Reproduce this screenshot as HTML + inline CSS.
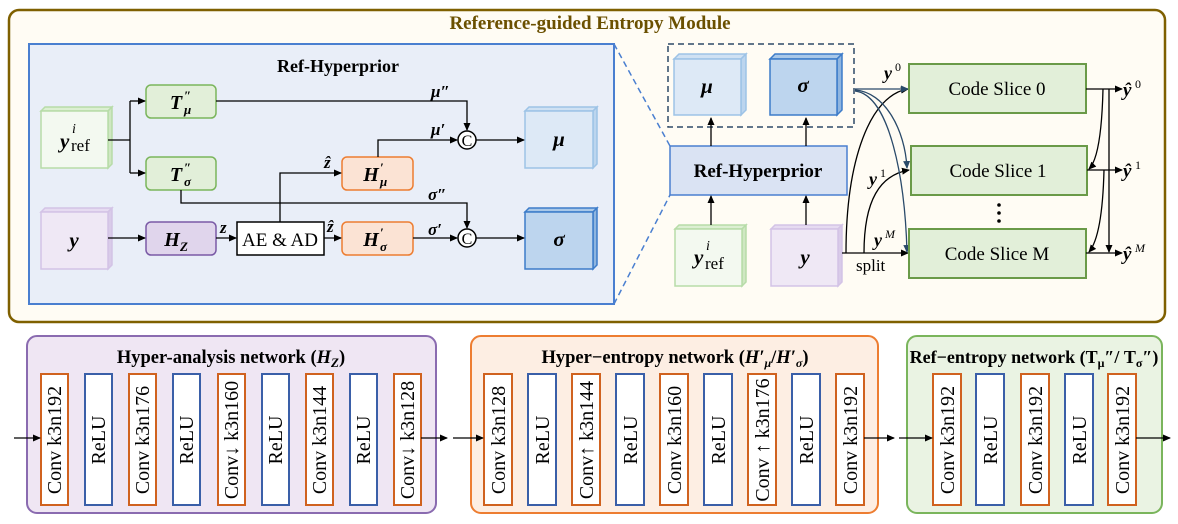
<!DOCTYPE html>
<html><head><meta charset="utf-8"><style>
html,body{margin:0;padding:0;background:#fff;}
svg{display:block;font-family:"Liberation Serif",serif;}
.b{font-weight:bold;}
.i{font-style:italic;font-weight:bold;}
</style></head><body>
<svg width="1178" height="524" viewBox="0 0 1178 524" xmlns="http://www.w3.org/2000/svg">
<defs>
<marker id="a" markerWidth="8" markerHeight="8" refX="7" refY="4" orient="auto" markerUnits="userSpaceOnUse"><path d="M0,0.5 L8,4 L0,7.5 z" fill="#000"/></marker>
<marker id="ab" markerWidth="8" markerHeight="8" refX="7" refY="4" orient="auto" markerUnits="userSpaceOnUse"><path d="M0,0.5 L8,4 L0,7.5 z" fill="#2a4a6a"/></marker>
</defs>
<rect x="9" y="10" width="1156" height="312" rx="10" fill="#fffcf4" stroke="#7f6000" stroke-width="2.5"/>
<text x="590" y="29" text-anchor="middle" class="b" font-size="19" fill="#6b5000">Reference-guided Entropy Module</text>
<rect x="29" y="44" width="585" height="260" fill="#e9eef8" stroke="#4a7fd0" stroke-width="2"/>
<text x="338" y="72" text-anchor="middle" class="b" font-size="18">Ref-Hyperprior</text>
<line x1="614" y1="44" x2="670" y2="146" stroke="#4a7fd0" stroke-width="1.5" stroke-dasharray="6,4"/>
<line x1="614" y1="304" x2="670" y2="195" stroke="#4a7fd0" stroke-width="1.5" stroke-dasharray="6,4"/>
<g stroke="#b7dca8" stroke-width="1.5">
<polygon points="41,111 45,107 112,107 108,111" fill="#dcefd2"/>
<polygon points="108,111 112,107 112,164 108,168" fill="#cfe7c2"/>
<rect x="41" y="111" width="67" height="57" fill="#f3f9f0"/>
</g>
<text x="60" y="148" class="i" font-size="21">y</text><text x="72" y="133" font-style="italic" font-size="14">i</text><text x="71" y="151" font-size="17">ref</text>
<g stroke="#d3c3e6" stroke-width="1.5">
<polygon points="41,212 45,208 112,208 108,212" fill="#e6dbf1"/>
<polygon points="108,212 112,208 112,265 108,269" fill="#d9cbe9"/>
<rect x="41" y="212" width="67" height="57" fill="#efe8f5"/>
</g>
<text x="74" y="247" text-anchor="middle" class="i" font-size="21">y</text>
<g stroke="#9dc3e6" stroke-width="1.5">
<polygon points="525,111 529,107 597,107 593,111" fill="#cfe1f3"/>
<polygon points="593,111 597,107 597,164 593,168" fill="#bcd5ee"/>
<rect x="525" y="111" width="68" height="57" fill="#dde9f6"/>
</g>
<text x="559" y="146" text-anchor="middle" class="i" font-size="21">μ</text>
<g stroke="#3d7cc9" stroke-width="1.5">
<polygon points="525,212 529,208 597,208 593,212" fill="#a9c8e8"/>
<polygon points="593,212 597,208 597,265 593,269" fill="#8fb5df"/>
<rect x="525" y="212" width="68" height="57" fill="#bdd5ee"/>
</g>
<text x="559" y="246" text-anchor="middle" class="i" font-size="21">σ</text>
<rect x="146" y="85" width="70" height="33" rx="5" fill="#e2efd9" stroke="#7ab55c" stroke-width="1.5"/>
<text x="176" y="109" text-anchor="middle" class="i" font-size="20">T</text><text x="184" y="100" class="i" font-size="13">″</text><text x="184" y="114" class="i" font-size="13">μ</text>
<rect x="146" y="157" width="70" height="33" rx="5" fill="#e2efd9" stroke="#7ab55c" stroke-width="1.5"/>
<text x="176" y="181" text-anchor="middle" class="i" font-size="20">T</text><text x="184" y="172" class="i" font-size="13">″</text><text x="184" y="186" class="i" font-size="13">σ</text>
<rect x="146" y="222" width="70" height="33" rx="5" fill="#e0d5ec" stroke="#7a5aa6" stroke-width="1.5"/>
<text x="172" y="246" text-anchor="middle" class="i" font-size="20">H</text><text x="180" y="251" class="i" font-size="13">Z</text>
<rect x="237" y="222" width="87" height="33" fill="#fff" stroke="#000" stroke-width="1.5"/>
<text x="280" y="246" text-anchor="middle" font-size="19">AE &amp; AD</text>
<rect x="342" y="157" width="71" height="33" rx="5" fill="#fbe3d4" stroke="#ed7d31" stroke-width="1.5"/>
<text x="371" y="181" text-anchor="middle" class="i" font-size="20">H</text><text x="380" y="172" class="i" font-size="13">′</text><text x="380" y="186" class="i" font-size="13">μ</text>
<rect x="342" y="222" width="71" height="33" rx="5" fill="#fbe3d4" stroke="#ed7d31" stroke-width="1.5"/>
<text x="371" y="246" text-anchor="middle" class="i" font-size="20">H</text><text x="380" y="237" class="i" font-size="13">′</text><text x="380" y="251" class="i" font-size="13">σ</text>
<circle cx="467" cy="140" r="9" fill="#fff" stroke="#000" stroke-width="1.5"/><text x="467" y="146" text-anchor="middle" font-size="16">C</text>
<circle cx="467" cy="238" r="9" fill="#fff" stroke="#000" stroke-width="1.5"/><text x="467" y="244" text-anchor="middle" font-size="16">C</text>
<g stroke="#000" stroke-width="1.3" fill="none">
<path d="M108,140 H130 M130,101 V173"/>
<path d="M130,101 H145" marker-end="url(#a)"/>
<path d="M130,173 H145" marker-end="url(#a)"/>
<path d="M216,101 H467 V130" marker-end="url(#a)"/>
<path d="M378,157 V140 H457" marker-end="url(#a)"/>
<path d="M476,140 H524" marker-end="url(#a)"/>
<path d="M181,190 V203 H467 V228" marker-end="url(#a)"/>
<path d="M108,238 H145" marker-end="url(#a)"/>
<path d="M216,238 H236" marker-end="url(#a)"/>
<path d="M324,238 H341" marker-end="url(#a)"/>
<path d="M280,222 V173 H341" marker-end="url(#a)"/>
<path d="M413,238 H457" marker-end="url(#a)"/>
<path d="M476,238 H524" marker-end="url(#a)"/>
</g>
<g class="i" font-size="17">
<text x="431" y="97">μ″</text><text x="431" y="135">μ′</text><text x="428" y="200">σ″</text><text x="428" y="235">σ′</text>
<text x="220" y="233">z</text><text x="327" y="232">ẑ</text><text x="324" y="168">ẑ</text>
</g>
<rect x="668" y="44" width="186" height="83" fill="none" stroke="#2f4a66" stroke-width="1.5" stroke-dasharray="6,4"/>
<g stroke="#9dc3e6" stroke-width="1.5">
<polygon points="674,59 679,54 746,54 741,59" fill="#cfe1f3"/>
<polygon points="741,59 746,54 746,110 741,115" fill="#bcd5ee"/>
<rect x="674" y="59" width="67" height="56" fill="#dde9f6"/>
</g>
<text x="707" y="93" text-anchor="middle" class="i" font-size="21">μ</text>
<g stroke="#3d7cc9" stroke-width="1.5">
<polygon points="770,59 775,54 842,54 837,59" fill="#a9c8e8"/>
<polygon points="837,59 842,54 842,110 837,115" fill="#8fb5df"/>
<rect x="770" y="59" width="67" height="56" fill="#bdd5ee"/>
</g>
<text x="803" y="92" text-anchor="middle" class="i" font-size="21">σ</text>
<rect x="670" y="146" width="177" height="49" fill="#dae3f3" stroke="#4a7fd0" stroke-width="1.5"/>
<text x="758" y="177" text-anchor="middle" class="b" font-size="19">Ref-Hyperprior</text>
<g stroke="#b7dca8" stroke-width="1.5">
<polygon points="675,229 679,225 746,225 742,229" fill="#dcefd2"/>
<polygon points="742,229 746,225 746,282 742,286" fill="#cfe7c2"/>
<rect x="675" y="229" width="67" height="57" fill="#f3f9f0"/>
</g>
<text x="694" y="264" class="i" font-size="21">y</text><text x="706" y="250" font-style="italic" font-size="14">i</text><text x="705" y="269" font-size="17">ref</text>
<g stroke="#d3c3e6" stroke-width="1.5">
<polygon points="771,229 775,225 842,225 838,229" fill="#e6dbf1"/>
<polygon points="838,229 842,225 842,282 838,286" fill="#d9cbe9"/>
<rect x="771" y="229" width="67" height="57" fill="#efe8f5"/>
</g>
<text x="805" y="264" text-anchor="middle" class="i" font-size="21">y</text>
<g stroke="#000" stroke-width="1.3" fill="none">
<path d="M711,146 V118" marker-end="url(#a)"/>
<path d="M806,146 V118" marker-end="url(#a)"/>
<path d="M711,225 V196" marker-end="url(#a)"/>
<path d="M806,225 V196" marker-end="url(#a)"/>
<path d="M842,253 H908" marker-end="url(#a)"/>
<path d="M846,253 C846,160 870,95 908,89" marker-end="url(#a)"/>
<path d="M864,253 C864,200 880,175 909,170" marker-end="url(#a)"/>
</g>
<g stroke="#2a4a6a" stroke-width="1.3" fill="none">
<path d="M855,89 H908" marker-end="url(#ab)"/>
<path d="M855,90 C885,92 905,130 907,168" marker-end="url(#ab)"/>
<path d="M855,91 C890,95 905,180 907,252" marker-end="url(#ab)"/>
</g>
<g fill="#e2efd9" stroke="#6a9a48" stroke-width="2">
<rect x="909" y="64" width="177" height="49"/>
<rect x="911" y="146" width="176" height="49"/>
<rect x="909" y="229" width="177" height="49"/>
</g>
<g font-size="19" text-anchor="middle">
<text x="997" y="95">Code Slice 0</text>
<text x="998" y="177">Code Slice 1</text>
<text x="997" y="260">Code Slice M</text>
</g>
<circle cx="999" cy="205" r="1.8"/><circle cx="999" cy="213" r="1.8"/><circle cx="999" cy="221" r="1.8"/>
<g class="i" font-size="18">
<text x="884" y="79">y</text><text x="895" y="71" font-size="12" font-style="normal" font-weight="normal">0</text>
<text x="869" y="185">y</text><text x="880" y="177" font-size="12" font-style="normal" font-weight="normal">1</text>
<text x="874" y="246">y</text><text x="885" y="238" font-size="12" font-style="italic" font-weight="normal">M</text>
</g>
<text x="856" y="271" font-size="17">split</text>
<g stroke="#000" stroke-width="1.3" fill="none">
<path d="M1086,89 H1122" marker-end="url(#a)"/>
<path d="M1087,170 H1122" marker-end="url(#a)"/>
<path d="M1086,253 H1122" marker-end="url(#a)"/>
<path d="M1109,89 V252" marker-end="url(#a)"/>
<path d="M1103,89 C1102,130 1098,160 1089,169" marker-end="url(#a)"/>
<path d="M1104,170 C1103,210 1099,240 1089,252" marker-end="url(#a)"/>
</g>
<g class="i" font-size="19">
<text x="1123" y="96">ŷ</text><text x="1135" y="88" font-size="12" font-style="normal" font-weight="normal">0</text>
<text x="1123" y="177">ŷ</text><text x="1135" y="169" font-size="12" font-style="normal" font-weight="normal">1</text>
<text x="1123" y="260">ŷ</text><text x="1135" y="252" font-size="12" font-style="italic" font-weight="normal">M</text>
</g>
<rect x="27" y="336" width="409" height="177" rx="10" fill="#efe6f3" stroke="#8a6bb0" stroke-width="2"/>
<text x="231" y="363" text-anchor="middle" class="b" font-size="18.5">Hyper-analysis network (<tspan font-style="italic">H</tspan><tspan font-style="italic" font-size="13" dy="4">Z</tspan><tspan dy="-4">)</tspan></text>
<rect x="471" y="336" width="407" height="177" rx="10" fill="#fdeee3" stroke="#ed7d31" stroke-width="2"/>
<text x="675" y="363" text-anchor="middle" class="b" font-size="18.5">Hyper−entropy network (<tspan font-style="italic">H′</tspan><tspan font-style="italic" font-size="12" dy="4">μ</tspan><tspan dy="-4">/</tspan><tspan font-style="italic">H′</tspan><tspan font-style="italic" font-size="12" dy="4">σ</tspan><tspan dy="-4">)</tspan></text>
<rect x="907" y="336" width="255" height="177" rx="10" fill="#eaf3e3" stroke="#7ab55c" stroke-width="2"/>
<text x="1034" y="363" text-anchor="middle" class="b" font-size="18">Ref−entropy network (T<tspan font-size="12" dy="4">μ</tspan><tspan dy="-4">″/ T</tspan><tspan font-size="12" dy="4">σ</tspan><tspan dy="-4">″)</tspan></text>
<g stroke-width="2" fill="#fff">
<rect x="41" y="374" width="27" height="131" stroke="#d0621f"/>
<rect x="85" y="374" width="27" height="131" stroke="#3a5fa8"/>
<rect x="129" y="374" width="27" height="131" stroke="#d0621f"/>
<rect x="173" y="374" width="27" height="131" stroke="#3a5fa8"/>
<rect x="218" y="374" width="27" height="131" stroke="#d0621f"/>
<rect x="262" y="374" width="27" height="131" stroke="#3a5fa8"/>
<rect x="306" y="374" width="27" height="131" stroke="#d0621f"/>
<rect x="350" y="374" width="27" height="131" stroke="#3a5fa8"/>
<rect x="394" y="374" width="27" height="131" stroke="#d0621f"/>
<rect x="484" y="374" width="28" height="131" stroke="#d0621f"/>
<rect x="528" y="374" width="28" height="131" stroke="#3a5fa8"/>
<rect x="572" y="374" width="28" height="131" stroke="#d0621f"/>
<rect x="616" y="374" width="28" height="131" stroke="#3a5fa8"/>
<rect x="660" y="374" width="28" height="131" stroke="#d0621f"/>
<rect x="704" y="374" width="28" height="131" stroke="#3a5fa8"/>
<rect x="748" y="374" width="28" height="131" stroke="#d0621f"/>
<rect x="792" y="374" width="28" height="131" stroke="#3a5fa8"/>
<rect x="836" y="374" width="28" height="131" stroke="#d0621f"/>
<rect x="933" y="374" width="28" height="131" stroke="#d0621f"/>
<rect x="976" y="374" width="28" height="131" stroke="#3a5fa8"/>
<rect x="1021" y="374" width="28" height="131" stroke="#d0621f"/>
<rect x="1065" y="374" width="28" height="131" stroke="#3a5fa8"/>
<rect x="1108" y="374" width="28" height="131" stroke="#d0621f"/>
</g>
<g font-size="20" text-anchor="middle">
<text transform="translate(61,440) rotate(-90)">Conv k3n192</text>
<text transform="translate(105,440) rotate(-90)">ReLU</text>
<text transform="translate(149,440) rotate(-90)">Conv k3n176</text>
<text transform="translate(193,440) rotate(-90)">ReLU</text>
<text transform="translate(238,440) rotate(-90)">Conv↓ k3n160</text>
<text transform="translate(282,440) rotate(-90)">ReLU</text>
<text transform="translate(326,440) rotate(-90)">Conv k3n144</text>
<text transform="translate(370,440) rotate(-90)">ReLU</text>
<text transform="translate(414,440) rotate(-90)">Conv↓ k3n128</text>
<text transform="translate(505,440) rotate(-90)">Conv k3n128</text>
<text transform="translate(549,440) rotate(-90)">ReLU</text>
<text transform="translate(593,440) rotate(-90)">Conv↑ k3n144</text>
<text transform="translate(637,440) rotate(-90)">ReLU</text>
<text transform="translate(681,440) rotate(-90)">Conv k3n160</text>
<text transform="translate(725,440) rotate(-90)">ReLU</text>
<text transform="translate(769,440) rotate(-90)">Conv ↑ k3n176</text>
<text transform="translate(813,440) rotate(-90)">ReLU</text>
<text transform="translate(857,440) rotate(-90)">Conv k3n192</text>
<text transform="translate(954,440) rotate(-90)">Conv k3n192</text>
<text transform="translate(997,440) rotate(-90)">ReLU</text>
<text transform="translate(1042,440) rotate(-90)">Conv k3n192</text>
<text transform="translate(1086,440) rotate(-90)">ReLU</text>
<text transform="translate(1129,440) rotate(-90)">Conv k3n192</text>
</g>
<g stroke="#000" stroke-width="1.3" fill="none">
<path d="M14,438 H40" marker-end="url(#a)"/>
<path d="M421,438 H447" marker-end="url(#a)"/>
<path d="M453,438 H483" marker-end="url(#a)"/>
<path d="M864,438 H894" marker-end="url(#a)"/>
<path d="M899,438 H932" marker-end="url(#a)"/>
<path d="M1136,438 H1170" marker-end="url(#a)"/>
</g>
</svg>
</body></html>
